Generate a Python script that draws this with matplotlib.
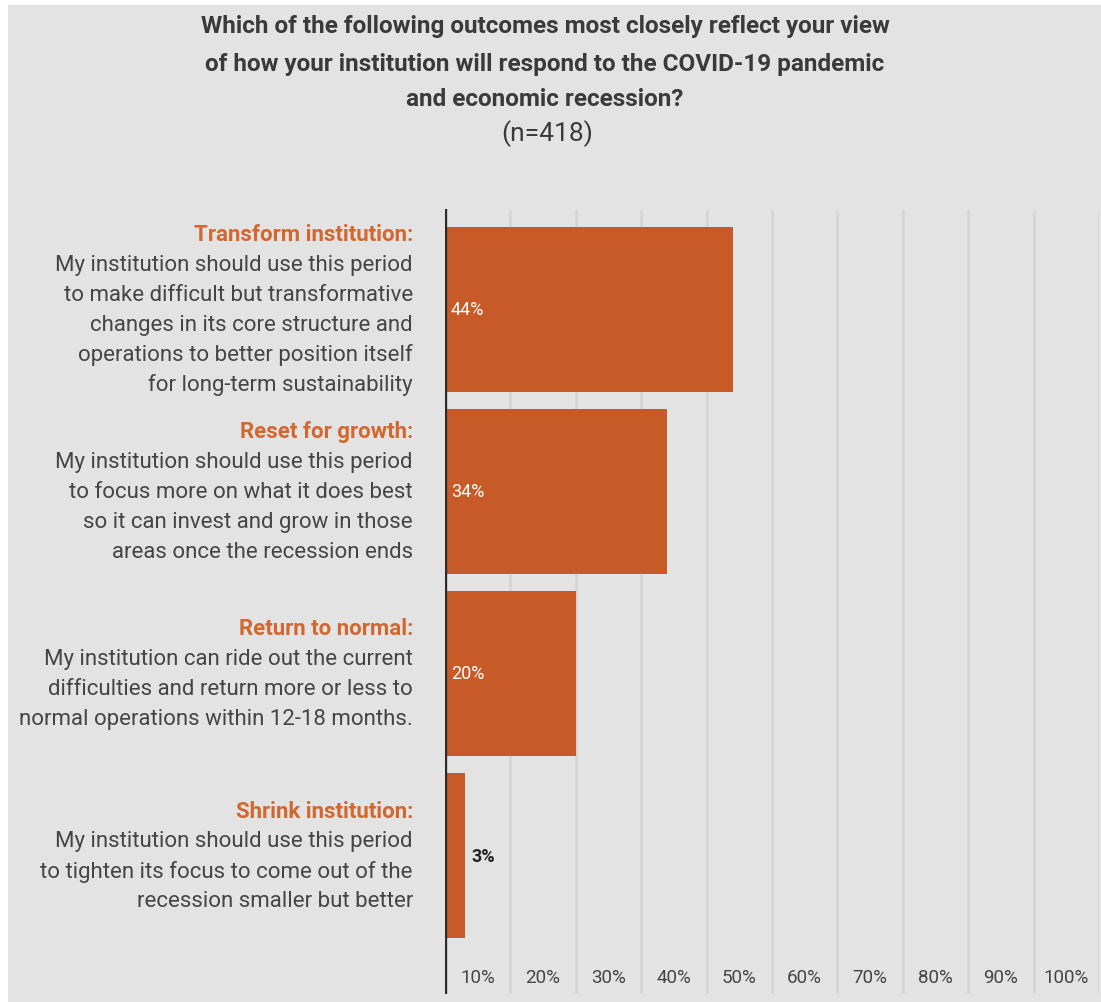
import matplotlib
matplotlib.use("Agg")
import matplotlib.pyplot as plt
from matplotlib.patches import Rectangle
import matplotlib.transforms as mtransforms

# ---- data ----
headings = ["Transform institution:", "Reset for growth:", "Return to normal:", "Shrink institution:"]
bodies = [
    ["My institution should use this period",
     "to make difficult but transformative",
     "changes in its core structure and",
     "operations to better position itself",
     "for long-term sustainability"],
    ["My institution should use this period",
     "to focus more on what it does best",
     "so it can invest and grow in those",
     "areas once the recession ends"],
    ["My institution can ride out the current",
     "difficulties and return more or less to",
     "normal operations within 12-18 months."],
    ["My institution should use this period",
     "to tighten its focus to come out of the",
     "recession smaller but better"],
]
values = [44, 34, 20, 3]
value_labels = ["44%", "34%", "20%", "3%"]
tick_labels = ["10%", "20%", "30%", "40%", "50%", "60%", "70%", "80%", "90%", "100%"]
title_lines = ["Which of the following outcomes most closely reflect your view",
               "of how your institution will respond to the COVID-19 pandemic",
               "and economic recession?"]
subtitle = "(n=418)"

BG = "#e3e3e3"
BAR = "#c85a27"
HEAD = "#d2672f"
TXT = "#454545"

W, H = 1101, 1003
fig = plt.figure(figsize=(W / 100, H / 100), dpi=100, facecolor="white")
fig.patches.append(Rectangle((8 / W, 0), 1 - 8 / W, 1 - 6 / H, transform=fig.transFigure,
                             facecolor=BG, edgecolor="none", zorder=-10))

# axes: x from 445px to 1099px, y from 210px to 995px (top-down)
left, right, top, bottom = 445, 1099, 210, 995
ax = fig.add_axes([left / W, 1 - bottom / H, (right - left) / W, (bottom - top) / H])
ax.set_facecolor("none")
ax.set_xlim(0, 100)
ax.set_ylim(3.76, -0.55)
for s in ax.spines.values():
    s.set_visible(False)
ax.set_xticks([])
ax.set_yticks([])

# gridlines
for gx in range(10, 101, 10):
    ax.axvline(gx, color="#d4d4d4", lw=1.8, zorder=0, ymax=0.997, ymin=0.003)

# axis line
ax.axvline(0, color="#2b2b2b", lw=2.4, zorder=3)

ypos = list(range(len(values)))
ax.barh(ypos, values, height=0.905, color=BAR, edgecolor="none", zorder=2)

px2pt = 72 / 100
for i, (v, lab) in enumerate(zip(values, value_labels)):
    if v >= 10:
        ax.annotate(lab, xy=(0, i), xytext=(6 * px2pt, 0), textcoords="offset points",
                    ha="left", va="center", color="white", fontsize=13,
                    family="Roboto", zorder=4)
    else:
        ax.annotate(lab, xy=(v, i), xytext=(7 * px2pt, 0), textcoords="offset points",
                    ha="left", va="center", color="#222222", fontsize=13,
                    family="Roboto", fontweight="bold", zorder=4)

# category labels
line_px = 30
for i, (hd, body) in enumerate(zip(headings, bodies)):
    lines = [hd] + body
    n = len(lines)
    for k, ln in enumerate(lines):
        dy = -((k - (n - 1) / 2) * line_px) * px2pt
        ax.annotate(ln, xy=(0, i), xytext=(-32 * px2pt, dy), textcoords="offset points",
                    ha="right", va="center", annotation_clip=False,
                    color=HEAD if k == 0 else TXT,
                    fontweight="bold" if k == 0 else "normal",
                    fontsize=16, family="Roboto")

# x tick labels centred in each interval
trans = mtransforms.blended_transform_factory(ax.transData, ax.transAxes)
for j, tl in enumerate(tick_labels):
    ax.text(10 * j + 5, (bottom - 978) / (bottom - top), tl, transform=trans,
            ha="center", va="center", fontsize=13.5, family="Roboto", color=TXT)

# title
title_y = [27, 64, 100]
for ln, yy in zip(title_lines, title_y):
    fig.text(545 / W, 1 - yy / H, ln, ha="center", va="center", fontsize=17.5,
             fontweight="bold", family="Roboto", color="#3a3a3a")
fig.text(547 / W, 1 - 134 / H, subtitle, ha="center", va="center", fontsize=19,
         family="Roboto", color="#3a3a3a")

fig.savefig("out.png", dpi=100, facecolor="white")
